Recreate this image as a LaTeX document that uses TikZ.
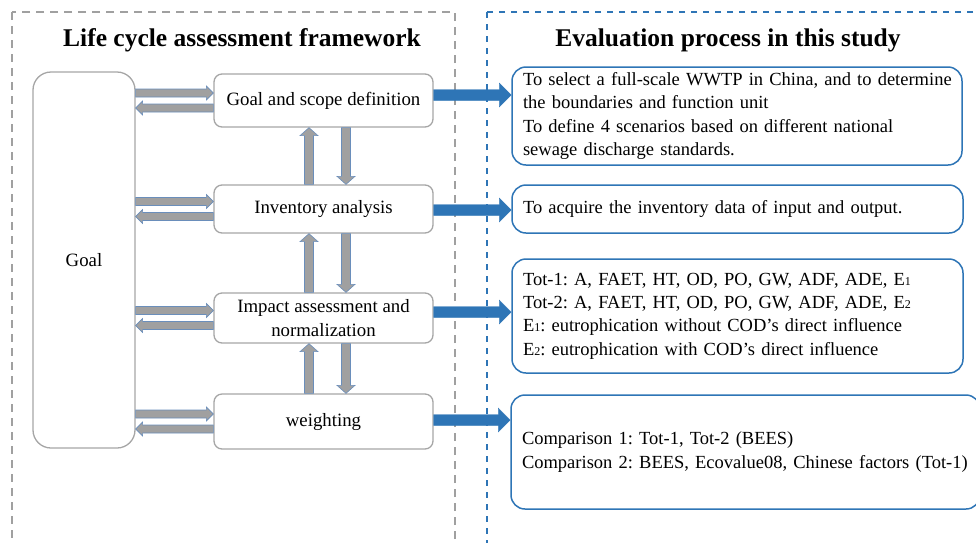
\documentclass[tikz,border=0pt]{standalone}
\usepackage{fontspec}
\setmainfont{Liberation Serif}
\usetikzlibrary{calc}
\definecolor{lblue}{HTML}{2E75B6}
\definecolor{bgray}{HTML}{A6A6A6}
\definecolor{agray}{HTML}{A0A0A0}
\definecolor{aedge}{HTML}{6A8EBB}
\newcommand\fatarrow[6]{%
 \filldraw[#1] ($(#2)!#4!90:(#3)$) -- ($(#3)!#6!(#2)!#4!-90:(#2)$) -- ($(#3)!#6!(#2)!#5!-90:(#2)$) -- (#3) -- ($(#3)!#6!(#2)!#5!90:(#2)$) -- ($(#3)!#6!(#2)!#4!90:(#2)$) -- ($(#2)!#4!-90:(#3)$) -- cycle;}
\newcommand\sub[1]{{\fontsize{12}{12}\selectfont #1}}
\newcommand\oneline[1]{\mbox{#1}}
\frenchspacing
\tikzset{
 graybox/.style={draw=bgray, line width=1.3pt, rounded corners=8pt, minimum width=219, fill=white, inner sep=0pt, align=center},
 bluebox/.style={draw=lblue, line width=1.5pt, rounded corners=14pt, fill=white, align=left, inner xsep=11pt, inner ysep=0pt, font=\fontsize{18.5}{23.3}\selectfont},
 grayarrow/.style={fill=agray, draw=aedge, line width=0.6pt},
 bluearrow/.style={fill=lblue, draw=lblue, line width=0.3pt},
 ttl/.style={font=\fontsize{25.5}{30}\selectfont\bfseries},
}
\begin{document}
\begin{tikzpicture}[x=1pt,y=-1pt, font=\fontsize{18.8}{23.3}\selectfont]
\useasboundingbox (0,0) rectangle (976,542);
\clip (0,0) rectangle (976,542);
\fill[white] (0,0) rectangle (976,542);
\draw[draw=agray, line width=1.3pt, dash pattern=on 8pt off 6pt] (12,12) rectangle (455,600);
\draw[draw=lblue, line width=1.3pt, dash pattern=on 6pt off 6pt] (487,12) rectangle (1000,600);
\node[ttl] (t1) at (242,40) {Life cycle assessment framework};
\node[ttl] (t2) at (728,40) {Evaluation process in this study};
\node[draw=bgray, line width=1.3pt, rounded corners=18pt, minimum width=102, minimum height=376, inner sep=0pt] (goal) at (84,260) {Goal};
\node[graybox, minimum height=53] (gs) at (323.5,100.5) {Goal and scope definition};
\node[graybox, minimum height=48] (ia) at (323.5,209) {Inventory analysis};
\node[graybox, minimum height=50] (im) at (323.5,318) {Impact assessment and\\normalization};
\node[graybox, minimum height=55] (wt) at (323.5,421.5) {weighting};
\node[bluebox, minimum height=98, text width=428] (ra) at (737,116) {\oneline{To select a full-scale WWTP in China, and to determine}\\\oneline{the boundaries and function unit}\\\oneline{To define 4 scenarios based on different national}\\\oneline{sewage discharge standards.}};
\node[bluebox, minimum height=48, text width=429] (rb) at (737.5,209) {\oneline{To acquire the inventory data of input and output.}};
\node[bluebox, minimum height=114, text width=429] (rc) at (737.5,316) {\oneline{Tot-1: A, FAET, HT, OD, PO, GW, ADF, ADE, E\sub{1}}\\\oneline{Tot-2: A, FAET, HT, OD, PO, GW, ADF, ADE, E\sub{2}}\\\oneline{E\sub{1}: eutrophication without COD’s direct influence}\\\oneline{E\sub{2}: eutrophication with COD’s direct influence}};
\node[bluebox, minimum height=114, text width=447] (rd) at (745.5,452) {\oneline{Comparison 1: Tot-1, Tot-2 (BEES)}\\\oneline{Comparison 2: BEES, Ecovalue08, Chinese factors (Tot-1)}};
% gray horizontal arrows
\foreach \b in {gs,ia,im,wt}{
 \coordinate (\b-ga) at ($(goal.east |- \b.west)+(0,-7.5)$);
 \coordinate (\b-gb) at ($(\b.west)+(0,-7.5)$);
 \coordinate (\b-ha) at ($(\b.west)+(0,7.5)$);
 \coordinate (\b-hb) at ($(goal.east |- \b.west)+(0,7.5)$);
 \fatarrow{grayarrow}{\b-ga}{\b-gb}{4pt}{7pt}{7pt}
 \fatarrow{grayarrow}{\b-ha}{\b-hb}{4pt}{7pt}{7pt}
}
% vertical arrows
\foreach \u/\l in {gs/ia, ia/im, im/wt}{
 \coordinate (\l-ua) at (309,0 |- \l.north);
 \coordinate (\l-ub) at (309,0 |- \u.south);
 \coordinate (\u-da) at (346,0 |- \u.south);
 \coordinate (\u-db) at (346,0 |- \l.north);
 \fatarrow{grayarrow}{\l-ua}{\l-ub}{4.5pt}{9pt}{8pt}
 \fatarrow{grayarrow}{\u-da}{\u-db}{4.5pt}{9pt}{8pt}
}
% blue arrows
\coordinate (gs-ba) at (gs.east |- 0,95);   \coordinate (gs-bb) at (ra.west |- 0,95);
\coordinate (ia-ba) at (ia.east |- 0,210);  \coordinate (ia-bb) at (rb.west |- 0,210);
\coordinate (im-ba) at (im.east |- 0,312);  \coordinate (im-bb) at (rc.west |- 0,312);
\coordinate (wt-ba) at (wt.east |- 0,420);  \coordinate (wt-bb) at (rd.west |- 0,420);
\foreach \b in {gs,ia,im,wt}{
 \fatarrow{bluearrow}{\b-ba}{\b-bb}{5.5pt}{12pt}{12pt}
}
\end{tikzpicture}
\end{document}
